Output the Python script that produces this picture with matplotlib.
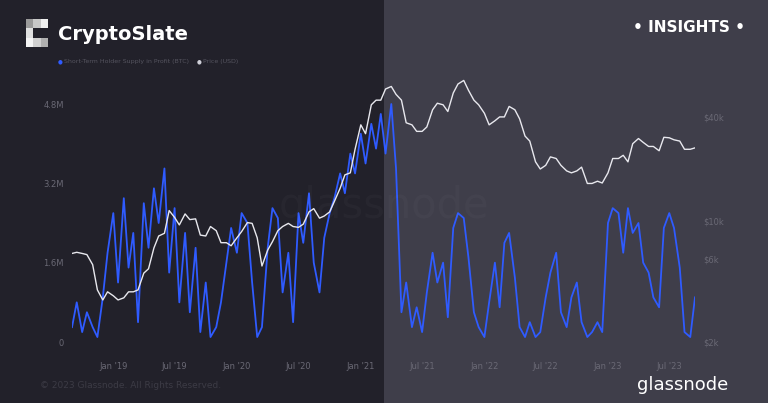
import numpy as np
import pandas as pd
import matplotlib
matplotlib.use("Agg")
import matplotlib.pyplot as plt
import matplotlib.dates as mdates

# --- data: semi-monthly, Sep 2018 .. Sep 2023 ---
dates = pd.date_range("2018-09-01", "2023-09-16", freq="SMS")

sth_supply = [  # millions BTC
    0.3, 0.8, 0.2, 0.6, 0.3, 0.1, 0.9, 1.8,
    2.6, 1.2, 2.9, 1.5, 2.2, 0.4, 2.8, 1.9, 3.1, 2.4, 3.5, 1.4, 2.7, 0.8,
    2.2, 0.6, 1.9, 0.2, 1.2, 0.1, 0.3, 0.8, 1.6, 2.3,
    1.8, 2.6, 2.4, 1.2, 0.1, 0.3, 1.9, 2.7, 2.5, 1.0, 1.8, 0.4, 2.6, 2.0,
    3.0, 1.6, 1.0, 2.1, 2.6, 2.9, 3.4, 3.0, 3.8, 3.4,
    4.2, 3.6, 4.4, 3.9, 4.6, 3.8, 4.8, 3.5, 0.6, 1.2, 0.3, 0.7, 0.2, 1.0,
    1.8, 1.2, 1.6, 0.5, 2.3, 2.6, 2.5, 1.7, 0.6, 0.3,
    0.1, 0.8, 1.6, 0.7, 2.0, 2.2, 1.3, 0.3, 0.1, 0.4, 0.1, 0.2, 0.9, 1.4,
    1.8, 0.6, 0.3, 0.9, 1.2, 0.4, 0.1, 0.2, 0.4, 0.2,
    2.4, 2.7, 2.6, 1.8, 2.7, 2.2, 2.4, 1.6, 1.4, 0.9, 0.7, 2.3, 2.6, 2.3,
    1.5, 0.2, 0.1, 0.9,
]
price = [
    6500, 6600, 6500, 6400, 5600, 4000, 3500, 3900,
    3700, 3500, 3600, 3900, 3900, 4000, 5000, 5300, 7000, 8200, 8500, 11500,
    10500, 9500, 11000, 10200, 10300, 8300, 8200, 9300, 8800, 7500, 7500, 7200,
    8000, 8700, 9800, 9700, 8000, 5500, 6800, 7600, 8800, 9300, 9700, 9300,
    9200, 9600, 11300, 11800, 10400, 10700, 11300, 13000, 15500, 18500, 19000, 26000,
    36000, 32000, 47000, 50000, 50000, 58000, 60000, 54000, 50000, 37000, 36000, 33000,
    33000, 35000, 44000, 48000, 47000, 43000, 55000, 62000, 65000, 57000, 50000, 47000,
    42000, 36000, 38000, 40000, 40000, 46000, 44000, 39000, 31000, 29000, 22000, 20000,
    21000, 23500, 23000, 21000, 19500, 19000, 19500, 20500, 16500, 16500, 17000, 16600,
    19000, 23000, 23000, 24000, 22000, 28000, 30000, 28500, 27000, 27000, 25500, 30500,
    30300, 29500, 29000, 26000, 26000, 26500,
]

fig = plt.figure(figsize=(7.68, 4.03), dpi=100)
fig.patch.set_facecolor("#22212a")

# background with lighter right half
bg = fig.add_axes([0, 0, 1, 1], zorder=-10)
bg.axvspan(0.5, 1, color="#3f3e4a", lw=0)
bg.set_xlim(0, 1)
bg.set_ylim(0, 1)
bg.axis("off")

# logo: 3x3 grid of grey squares, middle-right cell empty
logo = [(0, 0, "#9a9a9a"), (1, 0, "#c8c8c8"), (2, 0, "#f0f0f0"),
        (0, 1, "#e0e0e0"), (0, 2, "#f4f4f4"), (1, 2, "#d0d0d0"), (2, 2, "#b0b0b0")]
for dx, dy, c in logo:
    bg.add_patch(plt.Rectangle(((26 + dx * 7.3) / 768, 1 - (19 + (dy + 1) * 9.3) / 403),
                               7.3 / 768, 9.3 / 403, color=c, lw=0))

# axes spans pixels x 72..695, y 75..345
ax = fig.add_axes([72 / 768, 1 - 345 / 403, (695 - 72) / 768, (345 - 75) / 403])
ax.set_facecolor("none")
ax2 = ax.twinx()

# left: 0 at y=342, 4.8M at y=104
ppm = 238 / 4.8
ax.set_ylim(-3 / ppm, (342 - 75) / ppm)
# right (log): $2k at y=342, 173 px per decade
lo = np.log10(2000)
ax2.set_yscale("log")
ax2.set_ylim(10 ** (lo - 3 / 173), 10 ** (lo + 267 / 173))

ax.plot(dates, sth_supply, color="#2f5bff", lw=1.3, zorder=3)
ax2.plot(dates, price, color="#e8e8ee", lw=1.0)
ax.set_xlim(dates[0], dates[-1])

ax.set_yticks([0, 1.6, 3.2, 4.8])
ax.set_yticklabels(["0", "1.6M", "3.2M", "4.8M"])
ax2.set_yticks([2000, 6000, 10000, 40000])
ax2.set_yticklabels(["$2k", "$6k", "$10k", "$40k"])
ax2.minorticks_off()
ax.xaxis.set_major_locator(mdates.MonthLocator(bymonth=[1, 7]))
ax.xaxis.set_major_formatter(mdates.DateFormatter("%b '%y"))

for a in (ax, ax2):
    a.tick_params(colors="#6a6975", labelsize=6, length=0, pad=12)
    for s in a.spines.values():
        s.set_visible(False)
ax.tick_params(axis="y", pad=6)
ax2.tick_params(axis="y", pad=6)

fig.text(0.5, 0.49, "glassnode", color="#ffffff", alpha=0.025, fontsize=30,
         ha="center", va="center")

# header
fig.text(58 / 768, 1 - 35 / 403, "CryptoSlate", color="#ffffff", fontsize=14,
         fontweight="bold", va="center")
fig.text(0.97, 1 - 27 / 403, "• INSIGHTS •", color="#ffffff", fontsize=11,
         fontweight="bold", ha="right", va="center")
fig.text(58 / 768, 1 - 62 / 403, "●", color="#2f5bff", fontsize=4, va="center")
fig.text(64 / 768, 1 - 62 / 403, "Short-Term Holder Supply in Profit (BTC)",
         color="#55545f", fontsize=4.5, va="center")
fig.text(197 / 768, 1 - 62 / 403, "●", color="#cfcfd8", fontsize=4, va="center")
fig.text(203 / 768, 1 - 62 / 403, "Price (USD)", color="#55545f", fontsize=4.5, va="center")

# footer
fig.text(40 / 768, 1 - 386 / 403, "© 2023 Glassnode. All Rights Reserved.",
         color="#3c3b45", fontsize=6.5, va="center")
fig.text(728 / 768, 1 - 385 / 403, "glassnode", color="#ffffff", fontsize=13,
         ha="right", va="center")

fig.savefig("out.png", dpi=100, facecolor=fig.get_facecolor())
